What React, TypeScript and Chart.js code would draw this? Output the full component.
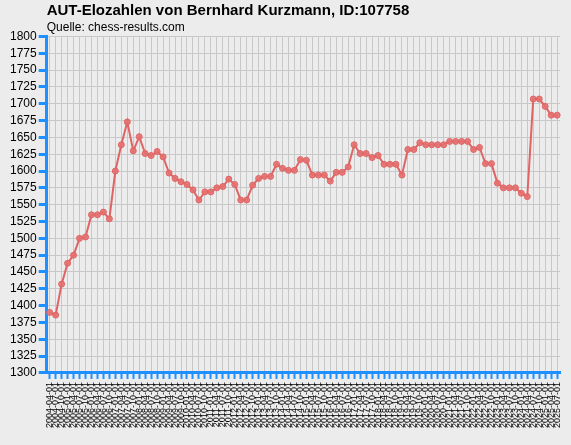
import { useEffect, useRef } from "react";
import { Chart, registerables } from "chart.js";

Chart.register(...registerables);

const title = "AUT-Elozahlen von Bernhard Kurzmann, ID:107758";
const source = "Quelle: chess-results.com";

const dates = [
  "2004-04-01", "2004-07-01", "2004-10-01",
  "2005-01-01", "2005-04-01", "2005-07-01", "2005-10-01",
  "2006-01-01", "2006-04-01", "2006-07-01", "2006-10-01",
  "2007-01-01", "2007-04-01", "2007-07-01", "2007-10-01",
  "2008-01-01", "2008-04-01", "2008-07-01", "2008-10-01",
  "2009-01-01", "2009-04-01", "2009-07-01", "2009-10-01",
  "2010-01-01", "2010-04-01", "2010-07-01", "2010-10-01",
  "2011-01-01", "2011-04-01", "2011-07-01", "2011-10-01",
  "2012-01-01", "2012-04-01", "2012-07-01", "2012-10-01",
  "2013-01-01", "2013-04-01", "2013-07-01", "2013-10-01",
  "2014-01-01", "2014-04-01", "2014-07-01", "2014-10-01",
  "2015-01-01", "2015-04-01", "2015-07-01", "2015-10-01",
  "2016-01-01", "2016-04-01", "2016-07-01", "2016-10-01",
  "2017-01-01", "2017-04-01", "2017-07-01", "2017-10-01",
  "2018-01-01", "2018-04-01", "2018-07-01", "2018-10-01",
  "2019-01-01", "2019-04-01", "2019-07-01", "2019-10-01",
  "2020-01-01", "2020-04-01", "2020-07-01", "2020-10-01",
  "2021-01-01", "2021-04-01", "2021-07-01", "2021-10-01",
  "2022-01-01", "2022-04-01", "2022-07-01", "2022-10-01",
  "2023-01-01", "2023-04-01", "2023-07-01", "2023-10-01",
  "2024-01-01", "2024-04-01", "2024-07-01", "2024-10-01",
  "2025-01-01", "2025-04-01", "2025-07-01",
];

const elo = [
  1390, 1386, 1432, 1463, 1475, 1500, 1502, 1535, 1535, 1539,
  1529, 1600, 1639, 1673, 1630, 1651, 1626, 1623, 1629, 1621,
  1597, 1589, 1584, 1580, 1572, 1557, 1569, 1569, 1575, 1577,
  1588, 1580, 1557, 1557, 1579, 1589, 1592, 1592, 1610, 1604,
  1601, 1601, 1617, 1616, 1594, 1594, 1594, 1585, 1598, 1598,
  1606, 1639, 1626, 1626, 1620, 1623, 1610, 1610, 1610, 1594,
  1632, 1632, 1642, 1639, 1639, 1639, 1639, 1644, 1644, 1644,
  1644, 1632, 1635, 1611, 1611, 1582, 1575, 1575, 1575, 1567,
  1562, 1707, 1707, 1696, 1683, 1683,
];

const yMin = 1300;
const yMax = 1800;
const yStep = 25;

const axisBlue = "#1e90ff";
const gridGray = "#c8c8c8";
const lineRed = "#df6464";

const App = () => {
  const canvasRef = useRef<HTMLCanvasElement>(null);

  useEffect(() => {
    if (!canvasRef.current) return;
    const ctx = canvasRef.current.getContext("2d");
    if (!ctx) return;

    const chart = new Chart(ctx, {
      type: "line",
      data: {
        labels: dates,
        datasets: [
          {
            data: elo,
            borderColor: lineRed,
            borderWidth: 2,
            backgroundColor: "rgba(228,112,112,0.9)",
            pointBorderColor: lineRed,
            pointBorderWidth: 1,
            pointRadius: 3,
            tension: 0,
          },
        ],
      },
      options: {
        animation: false,
        responsive: true,
        maintainAspectRatio: false,
        layout: { padding: { left: 8, right: 8, bottom: 14, top: 0 } },
        plugins: {
          legend: { display: false },
          tooltip: { enabled: false },
          title: {
            display: true,
            text: title,
            align: "start",
            fullSize: false,
            color: "#000",
            font: { family: "Arial", size: 15, weight: "bold" },
            padding: { top: 2, bottom: 0 },
          },
          subtitle: {
            display: true,
            text: source,
            align: "start",
            fullSize: false,
            color: "#000",
            font: { family: "Arial", size: 12 },
            padding: { top: 0, bottom: 2 },
          },
        },
        scales: {
          x: {
            offset: true,
            border: { color: axisBlue, width: 3 },
            grid: {
              color: gridGray,
              lineWidth: 1,
              offset: false,
              tickColor: axisBlue,
              tickWidth: 2,
              tickLength: 6,
            },
            ticks: {
              autoSkip: false,
              minRotation: 90,
              maxRotation: 90,
              color: "#000",
              padding: 3,
              font: { family: "Arial", size: 9 },
            },
          },
          y: {
            min: yMin,
            max: yMax,
            border: { color: axisBlue, width: 3 },
            grid: {
              color: gridGray,
              lineWidth: 1,
              tickColor: axisBlue,
              tickWidth: 3,
              tickLength: 8,
            },
            ticks: {
              stepSize: yStep,
              autoSkip: false,
              color: "#000",
              padding: 2,
              font: { family: "Arial", size: 12 },
              callback: (v) => String(v),
            },
          },
        },
      },
    });

    return () => {
      chart.destroy();
    };
  }, []);

  return (
    <div
      style={{
        position: "fixed",
        left: 0,
        top: 0,
        width: 571,
        height: 445,
        background: "#ececec",
      }}
    >
      <canvas ref={canvasRef}></canvas>
    </div>
  );
};

export default App;
